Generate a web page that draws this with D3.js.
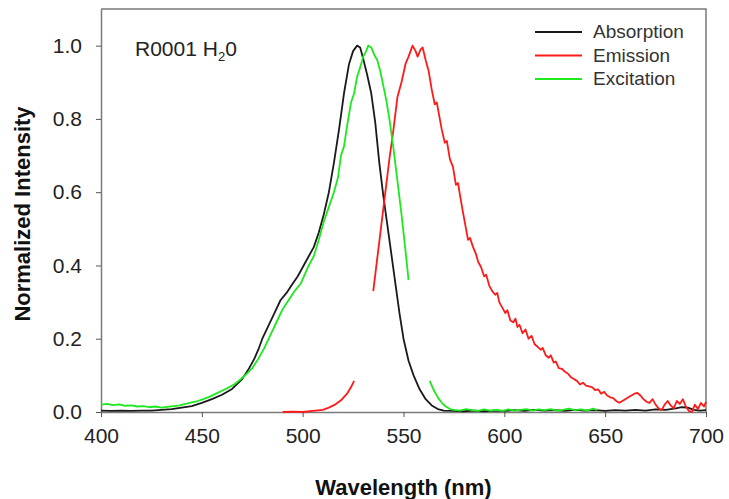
<!DOCTYPE html>
<html>
<head>
<meta charset="utf-8">
<script src="https://cdn.jsdelivr.net/npm/d3@7"></script>
<style>
  body { margin: 0; background: #fff; }
  text { font-family: "Liberation Sans", Arial, sans-serif; }
</style>
</head>
<body>
<div id="chart"></div>
<script>
// Absorption (black), one continuous trace
const absorption = [
  [400, 0.004], [405, 0.003], [410, 0.004], [415, 0.003], [420, 0.004], [425, 0.004],
  [430, 0.006], [435, 0.008], [440, 0.012], [445, 0.016], [450, 0.025], [455, 0.035],
  [460, 0.047], [465, 0.063], [470, 0.09], [473, 0.115], [476, 0.145], [478, 0.17],
  [480, 0.2], [483, 0.235], [486, 0.27], [489, 0.305], [492, 0.325], [495, 0.35],
  [497.5, 0.37], [500.5, 0.4], [503, 0.425], [505.5, 0.45], [508, 0.49], [510.5, 0.54],
  [513, 0.6], [515.5, 0.68], [518, 0.77], [520.5, 0.87], [523, 0.95], [525, 0.985],
  [527, 1.0], [528.5, 0.995], [530, 0.965], [532, 0.92], [534, 0.87], [536, 0.79],
  [538, 0.68], [540, 0.59], [542, 0.51], [544, 0.43], [546, 0.35], [548, 0.27],
  [550, 0.2], [552.5, 0.14], [555, 0.1], [558, 0.062], [561, 0.035], [564, 0.018],
  [567, 0.008], [570, 0.004], [575, 0.003], [580, 0.002], [585, 0.004], [590, 0.002],
  [595, 0.004], [600, 0.003], [605, 0.005], [610, 0.003], [615, 0.006], [620, 0.004],
  [625, 0.005], [630, 0.003], [635, 0.006], [640, 0.004], [645, 0.005], [650, 0.003],
  [655, 0.005], [660, 0.004], [665, 0.006], [670, 0.004], [675, 0.007], [680, 0.006],
  [685, 0.01], [688, 0.013], [691, 0.012], [694, 0.006], [697, 0.004], [700, 0.005]
];

// Emission (red), recorded in two pieces
const emissionLow = [
  [490, 0.0], [495, 0.001], [500, 0.0], [505, 0.003], [510, 0.006], [513, 0.012],
  [516, 0.02], [519, 0.032], [522, 0.05], [524, 0.068], [525.5, 0.085]
];
const emissionHigh = [
  [535, 0.33], [537, 0.42], [539, 0.51], [541, 0.6], [543, 0.69], [545, 0.77],
  [547, 0.86], [549, 0.9], [551, 0.95], [552.5, 0.97], [554.5, 1.0], [556, 0.985],
  [557, 0.97], [558.5, 0.99], [559.5, 0.995], [561, 0.96], [562.5, 0.93], [564, 0.88],
  [565.5, 0.84], [566.5, 0.845], [567.5, 0.815], [569, 0.77], [570.5, 0.735], [571.5, 0.74],
  [573, 0.69], [574.5, 0.67], [576, 0.62], [577, 0.625], [579, 0.56], [581, 0.5],
  [582, 0.47], [583, 0.475], [584.5, 0.45], [586, 0.43], [587, 0.41], [588.5, 0.395],
  [590, 0.37], [591, 0.375], [592.5, 0.345], [594, 0.33], [595.5, 0.32], [596.5, 0.325],
  [597.5, 0.3], [599, 0.285], [600.5, 0.27], [601.5, 0.278], [603, 0.25], [604.5, 0.245],
  [605.5, 0.255], [606.5, 0.232], [607.5, 0.238], [609, 0.215], [610.5, 0.225], [612, 0.2],
  [613.5, 0.208], [615, 0.185], [616.5, 0.178], [618, 0.17], [619, 0.175], [620.5, 0.155],
  [622, 0.148], [623, 0.155], [624.5, 0.135], [625.5, 0.138], [627, 0.12], [628.5, 0.118],
  [630, 0.11], [631.5, 0.105], [633, 0.095], [634.5, 0.09], [636, 0.085], [637.5, 0.075],
  [639, 0.08], [640.5, 0.072], [642, 0.07], [643.5, 0.068], [645, 0.06], [646.5, 0.062],
  [648, 0.05], [649.5, 0.055], [651, 0.045], [652.5, 0.04], [654, 0.038], [655.5, 0.03],
  [657, 0.025], [658.5, 0.03], [660, 0.035], [661.5, 0.04], [663, 0.045], [664.5, 0.05],
  [666, 0.052], [667.5, 0.045], [669, 0.035], [670.5, 0.028], [672, 0.025], [673.5, 0.035],
  [675, 0.02], [676.5, 0.01], [678, 0.005], [679.5, 0.02], [681, 0.03], [682.5, 0.018],
  [684, 0.01], [685.5, 0.03], [687, 0.022], [688.5, 0.035], [690, 0.015], [691.5, 0.003],
  [693, 0.0], [694.5, 0.02], [696, 0.008], [697.5, 0.025], [699, 0.015], [700, 0.028]
];

// Excitation (green), also two pieces
const excitationLow = [
  [400, 0.02], [403, 0.022], [406, 0.019], [409, 0.021], [412, 0.017], [415, 0.018],
  [418, 0.015], [421, 0.016], [424, 0.013], [427, 0.015], [430, 0.012], [433, 0.014],
  [436, 0.016], [439, 0.018], [442, 0.022], [445, 0.026], [448, 0.03], [451, 0.036],
  [454, 0.042], [457, 0.05], [460, 0.058], [463, 0.066], [466, 0.075], [469, 0.088],
  [472, 0.103], [475, 0.12], [478, 0.145], [481, 0.175], [484, 0.21], [487, 0.245],
  [490, 0.28], [493, 0.305], [496, 0.33], [499, 0.35], [501, 0.375], [503, 0.4],
  [505.5, 0.425], [508, 0.47], [510.5, 0.52], [513, 0.56], [515.5, 0.6], [517.5, 0.64],
  [519, 0.7], [520.5, 0.725], [522, 0.78], [524, 0.845], [525.5, 0.87], [527, 0.915],
  [528.5, 0.94], [530, 0.97], [531.5, 0.985], [532.5, 1.0], [534, 0.995], [535.5, 0.975],
  [537, 0.96], [538.5, 0.93], [540, 0.89], [541.5, 0.85], [543, 0.8], [545, 0.72],
  [547, 0.63], [549, 0.54], [551, 0.44], [552.5, 0.36]
];
const excitationHigh = [
  [563, 0.085], [565, 0.06], [567, 0.04], [569, 0.025], [571, 0.015], [573, 0.008],
  [575, 0.006], [578, 0.004], [581, 0.008], [584, 0.005], [587, 0.003], [590, 0.007],
  [593, 0.004], [596, 0.006], [599, 0.003], [602, 0.007], [605, 0.004], [608, 0.006],
  [611, 0.008], [614, 0.004], [617, 0.007], [620, 0.005], [623, 0.008], [626, 0.004],
  [629, 0.006], [632, 0.009], [635, 0.005], [638, 0.007], [641, 0.004], [644, 0.009],
  [646, 0.006]
];

const seriesNames = ["Absorption", "Emission", "Excitation"];
const seriesColors = ["#1a1a1a", "#ff1a1a", "#1ee81e"];
const seriesSegments = [[absorption], [emissionLow, emissionHigh], [excitationLow, excitationHigh]];

const xTicks = [400, 450, 500, 550, 600, 650, 700];
const yTicks = [0, 0.2, 0.4, 0.6, 0.8, 1.0];

const margin = { top: 9, right: 23, bottom: 87, left: 101 };
const width = 729 - margin.left - margin.right;
const height = 499 - margin.top - margin.bottom;

const svg = d3
  .select("#chart")
  .append("svg")
  .attr("width", 729)
  .attr("height", 499);

const g = svg
  .append("g")
  .attr("transform", `translate(${margin.left},${margin.top})`);

const x = d3.scaleLinear().domain([400, 700]).range([0, width]);
const y = d3.scaleLinear().domain([0, 1.1]).range([height, 0]);

// Frame (top and right)
g.append("path")
  .attr("d", `M0,0H${width}V${height}`)
  .attr("fill", "none")
  .attr("stroke", "#7a7a7a")
  .attr("stroke-width", 1.5);

// Axes
const xAxis = g
  .append("g")
  .attr("transform", `translate(0,${height})`)
  .call(d3.axisBottom(x).tickValues(xTicks).tickSize(5).tickPadding(11).tickSizeOuter(0));

const yAxis = g
  .append("g")
  .call(d3.axisLeft(y).tickValues(yTicks).tickFormat(d3.format(".1f")).tickSize(5).tickPadding(14).tickSizeOuter(0));

[xAxis, yAxis].forEach((a) => {
  a.select(".domain").attr("stroke", "#7a7a7a").attr("stroke-width", 1.5);
  a.selectAll(".tick line").attr("stroke", "#555");
  a.selectAll(".tick text")
    .attr("fill", "#222")
    .style("font-size", "21px")
    .style("font-family", "'Liberation Sans', Arial, sans-serif");
});

// Curves
const line = d3
  .line()
  .x((d) => x(d[0]))
  .y((d) => y(d[1]));

seriesSegments.forEach((segs, i) => {
  segs.forEach((seg) => {
    g.append("path")
      .datum(seg)
      .attr("fill", "none")
      .attr("stroke", seriesColors[i])
      .attr("stroke-width", 1.8)
      .attr("stroke-linejoin", "round")
      .attr("d", line);
  });
});

// Axis titles
svg
  .append("text")
  .attr("x", margin.left + width / 2)
  .attr("y", 495)
  .attr("text-anchor", "middle")
  .style("font-size", "22px")
  .style("font-weight", "bold")
  .attr("fill", "#111")
  .text("Wavelength (nm)");

svg
  .append("text")
  .attr("transform", "rotate(-90)")
  .attr("x", -214)
  .attr("y", 30)
  .attr("text-anchor", "middle")
  .style("font-size", "22px")
  .style("font-weight", "bold")
  .attr("fill", "#111")
  .text("Normalized Intensity");

// Sample label
const label = svg
  .append("text")
  .attr("x", 135)
  .attr("y", 56)
  .attr("fill", "#222")
  .style("font-size", "21px");
label.append("tspan").text("R0001 H");
label.append("tspan").attr("dy", 5).style("font-size", "13px").text("2");
label.append("tspan").attr("dy", -5).text("0");

// Legend
const legend = svg
  .append("g")
  .attr("transform", "translate(535, 32)");

seriesNames.forEach((name, i) => {
  const row = legend.append("g").attr("transform", `translate(0, ${i * 23.5})`);
  row
    .append("line")
    .attr("x1", 0)
    .attr("x2", 47)
    .attr("stroke", seriesColors[i])
    .attr("stroke-width", 2);
  row
    .append("text")
    .attr("x", 58)
    .attr("y", 6)
    .attr("fill", "#333")
    .style("font-size", "19px")
    .text(name);
});
</script>
</body>
</html>
